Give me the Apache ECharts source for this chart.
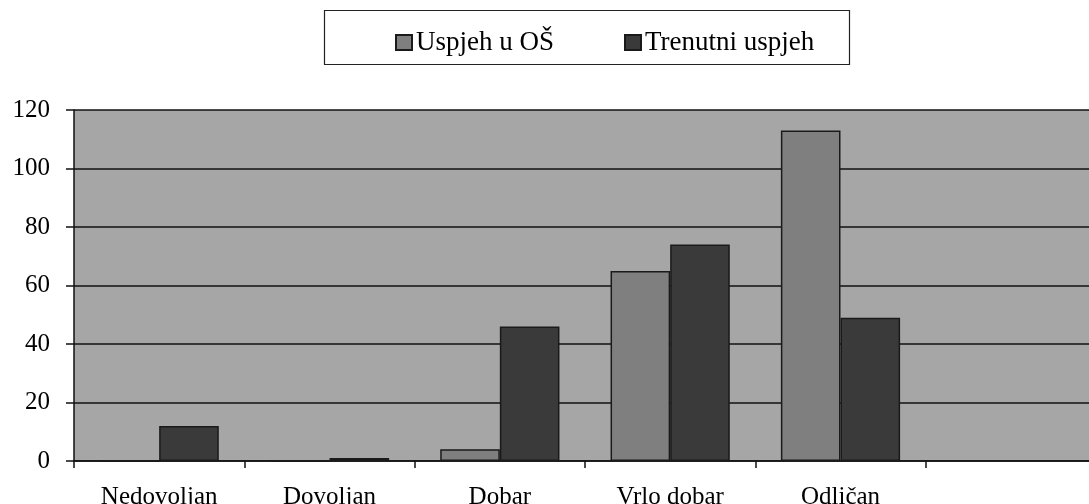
<!DOCTYPE html>
<html>
<head>
<meta charset="utf-8">
<script src="https://cdn.jsdelivr.net/npm/echarts@6/dist/echarts.min.js"></script>
<style>
  html, body { margin: 0; padding: 0; background: #fff; }
  #chart { width: 1089px; height: 504px; }
</style>
</head>
<body>
<div id="chart"></div>
<script>
// grades, last slot is empty in the original
const categories = ['Nedovoljan', 'Dovoljan', 'Dobar', 'Vrlo dobar', 'Odličan', ''];
const uspjehOS = [0, 0, 4, 65, 113, null];
const trenutni = [12, 1, 46, 74, 49, null];
const yTicks = [0, 20, 40, 60, 80, 100, 120];

const serif = '"Liberation Serif", "DejaVu Serif", serif';

const chart = echarts.init(document.getElementById('chart'));
chart.setOption({
  animation: false,
  textStyle: { fontFamily: serif },
  graphic: [{
    type: 'rect',
    shape: { x: 324.5, y: 10.5, width: 525, height: 54 },
    style: { fill: '#fff', stroke: '#222', lineWidth: 1.2 },
    z: -1
  }],
  legend: {
    left: 390,
    top: 24,
    itemWidth: 16,
    itemHeight: 15,
    itemGap: 70,
    icon: 'rect',
    textStyle: { fontFamily: serif, fontSize: 27, color: '#000', padding: [0, 0, 0, -1] },
    data: ['Uspjeh u OŠ', 'Trenutni uspjeh']
  },
  grid: {
    left: 74, top: 110, right: -7, bottom: 43,
    outerBoundsMode: 'none',
    show: true, backgroundColor: '#a6a6a6', borderWidth: 0
  },
  xAxis: {
    type: 'category',
    data: categories,
    axisLine: { lineStyle: { color: '#111', width: 1.5 } },
    axisTick: { show: true, length: 7, lineStyle: { color: '#111', width: 1.5 } },
    axisLabel: { color: '#000', fontSize: 25, margin: 24, fontFamily: serif }
  },
  yAxis: {
    type: 'value',
    min: yTicks[0],
    max: yTicks[yTicks.length - 1],
    interval: 20,
    axisLine: { show: true, lineStyle: { color: '#111', width: 1.5 } },
    axisTick: { show: true, length: 8, lineStyle: { color: '#111', width: 1.5 } },
    axisLabel: { color: '#000', fontSize: 25, margin: 24, fontFamily: serif },
    splitLine: { show: true, lineStyle: { color: '#111', width: 1.5 } }
  },
  series: [{
    name: 'Uspjeh u OŠ',
    type: 'bar',
    data: uspjehOS,
    barGap: 0,
    barCategoryGap: '30%',
    itemStyle: { color: '#7f7f7f', borderColor: '#1a1a1a', borderWidth: 1.5 }
  }, {
    name: 'Trenutni uspjeh',
    type: 'bar',
    data: trenutni,
    barGap: 0,
    barCategoryGap: '30%',
    itemStyle: { color: '#3a3a3a', borderColor: '#1a1a1a', borderWidth: 1.5 }
  }]
});
</script>
</body>
</html>
